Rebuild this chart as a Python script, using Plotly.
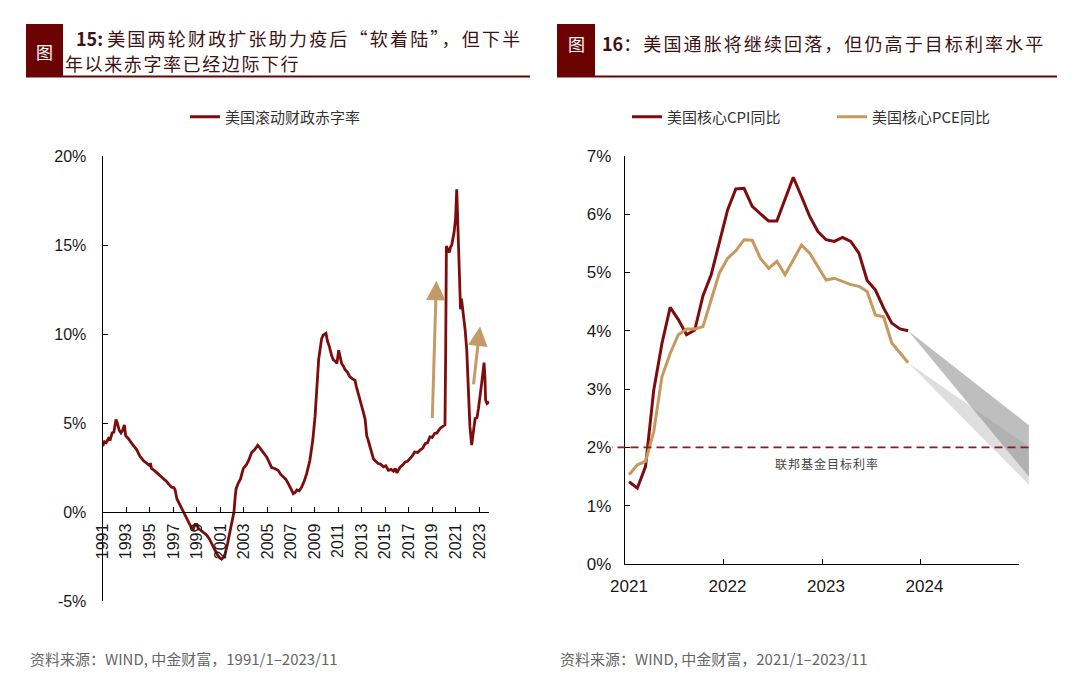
import plotly.graph_objects as go

W, H = 1080, 684
OFF = 8  # page body margin of the html page
CJK = "Noto Sans CJK SC"
NUM = "Liberation Sans, Arial"
RED = "#7E0C0C"
TAN = "#C8985E"
ARROW = "#C49A68"

# ---------------- left chart data: 美国滚动财政赤字率 (% , decimal year) ----------------
deficit_t = [1991.00, 1991.15, 1991.30, 1991.50, 1991.65, 1991.80, 1991.95, 1992.05, 1992.13, 1992.25,
             1992.40, 1992.55, 1992.70, 1992.84, 1992.95, 1993.15, 1993.35, 1993.60, 1993.90, 1994.15,
             1994.45, 1994.75, 1995.00, 1995.05, 1995.15, 1995.45, 1995.90, 1996.20, 1996.45, 1996.70,
             1996.85, 1997.05, 1997.15, 1997.30, 1997.60, 1997.85, 1998.10, 1998.30, 1998.55, 1998.70,
             1998.85, 1999.00, 1999.15, 1999.30, 1999.55, 1999.84, 2000.05, 2000.26, 2000.50, 2000.70,
             2000.90, 2001.10, 2001.25, 2001.40, 2001.60, 2001.80, 2002.00, 2002.15, 2002.25, 2002.33,
             2002.50, 2002.70, 2002.95, 2003.20, 2003.40, 2003.65, 2003.90, 2004.17, 2004.30, 2004.50,
             2004.70, 2004.93, 2005.15, 2005.36, 2005.60, 2005.90, 2006.15, 2006.35, 2006.55, 2006.77,
             2007.00, 2007.20, 2007.35, 2007.50, 2007.70, 2007.90, 2008.10, 2008.33, 2008.60, 2008.75,
             2008.85, 2009.04, 2009.15, 2009.24, 2009.35, 2009.46, 2009.60, 2009.75, 2009.97, 2010.10,
             2010.26, 2010.45, 2010.60, 2010.80, 2010.90, 2011.05, 2011.15, 2011.30, 2011.45, 2011.60,
             2011.80, 2012.00, 2012.20, 2012.44, 2012.55, 2012.70, 2012.85, 2013.00, 2013.15, 2013.30,
             2013.43, 2013.55, 2013.70, 2013.85, 2014.00, 2014.20, 2014.40, 2014.60, 2014.85, 2015.05,
             2015.27, 2015.50, 2015.70, 2015.85, 2016.00, 2016.15, 2016.30, 2016.50, 2016.70, 2016.90,
             2017.10, 2017.30, 2017.50, 2017.75, 2017.96, 2018.20, 2018.40, 2018.60, 2018.80, 2019.00,
             2019.20, 2019.40, 2019.66, 2019.90, 2020.08, 2020.14, 2020.20, 2020.30, 2020.45, 2020.55,
             2020.65, 2020.85, 2020.98, 2021.08, 2021.15, 2021.22, 2021.30, 2021.40, 2021.48, 2021.64,
             2021.80, 2021.93, 2022.05, 2022.20, 2022.35, 2022.45, 2022.64, 2022.80, 2022.92, 2023.20,
             2023.40, 2023.48, 2023.53, 2023.65, 2023.84]
deficit_v = [3.70, 3.95, 3.90, 4.15, 4.10, 4.45, 4.50, 5.00, 5.20, 5.00,
             4.60, 4.45, 4.60, 4.90, 4.30, 4.15, 4.00, 3.75, 3.50, 3.15,
             2.90, 2.75, 2.60, 2.75, 2.45, 2.30, 2.05, 1.85, 1.70, 1.50,
             1.40, 1.37, 1.25, 0.75, 0.35, 0.00, -0.35, -0.65, -0.90, -0.95,
             -0.70, -0.70, -0.95, -1.00, -1.15, -1.30, -1.50, -1.80, -2.10, -2.35,
             -2.55, -2.65, -2.55, -2.35, -1.80, -1.20, -0.50, 0.00, 0.80, 1.30,
             1.60, 1.85, 2.45, 2.65, 2.90, 3.35, 3.50, 3.75, 3.65, 3.45,
             3.30, 3.10, 2.80, 2.50, 2.45, 2.35, 2.10, 1.97, 1.85, 1.60,
             1.30, 1.03, 1.10, 1.25, 1.20, 1.40, 1.70, 2.16, 2.90, 3.60,
             4.05, 5.35, 6.50, 7.60, 8.60, 9.10, 9.75, 9.95, 10.05, 9.60,
             9.30, 8.80, 8.55, 8.45, 8.35, 9.10, 8.70, 8.35, 8.20, 8.00,
             7.85, 7.60, 7.50, 7.40, 7.05, 6.70, 6.40, 6.10, 5.60, 5.20,
             4.30, 4.05, 3.66, 3.30, 3.00, 2.85, 2.73, 2.70, 2.54, 2.60,
             2.35, 2.40, 2.30, 2.45, 2.20, 2.40, 2.55, 2.65, 2.82, 2.85,
             3.00, 3.15, 3.38, 3.35, 3.48, 3.60, 3.85, 3.90, 4.23, 4.20,
             4.42, 4.45, 4.70, 4.80, 4.90, 9.00, 14.95, 14.80, 14.60, 14.90,
             15.00, 15.70, 16.50, 18.15, 16.50, 15.40, 12.50, 11.40, 12.00, 11.20,
             10.20, 9.10, 7.00, 4.80, 3.76, 4.40, 5.26, 5.30, 5.80, 7.25,
             8.40, 7.50, 6.30, 6.10, 6.20]
left_ticks = list(range(1991, 2024, 2))
left_yticks = [-5, 0, 5, 10, 15, 20]
# arrows (tail -> head)
arrow_tail_t = [2019.00, 2022.49]
arrow_tail_v = [5.20, 7.09]
arrow_head_t = [2019.35, 2023.06]
arrow_head_v = [13.00, 10.43]

# ---------------- right chart data: 核心CPI / 核心PCE 同比 (%), 2021-01 .. 2023-11 ----------------
months = [f"{y}-{m:02d}" for y in (2021, 2022, 2023) for m in range(1, 13)][:35]
core_cpi = [1.41, 1.30, 1.67, 2.98, 3.78, 4.40, 4.19, 3.93, 4.01, 4.60, 4.96, 5.50,
            6.07, 6.43, 6.44, 6.13, 6.01, 5.88, 5.88, 6.24, 6.63, 6.30, 5.96, 5.70,
            5.56, 5.53, 5.60, 5.53, 5.33, 4.86, 4.70, 4.39, 4.13, 4.03, 4.00]
core_pce = [1.53, 1.70, 1.76, 2.27, 3.21, 3.61, 3.93, 4.03, 4.03, 4.07, 4.53, 4.99,
            5.24, 5.37, 5.56, 5.55, 5.24, 5.07, 5.19, 4.96, 5.21, 5.47, 5.33, 5.10,
            4.87, 4.90, 4.84, 4.79, 4.76, 4.67, 4.27, 4.24, 3.79, 3.61, 3.45]
# projection fans: start value at 2023-11, range at the end (about 2025-01)
fan_end_t = 2025.10
cpi_fan = [4.00, 2.38, 1.50]
pce_fan = [3.45, 2.01, 1.36]
fed_target = 2.0
right_ticks = [2021, 2022, 2023, 2024, 2025]
right_ticktext = ["2021", "2022", "2023", "2024", ""]
right_yticks = list(range(0, 8))


def mdec(s):
    y, m = s.split("-")
    return int(y) + (int(m) - 0.5) / 12


mx = [mdec(s) for s in months]


def px_x(p):
    return (p - OFF) / W


def px_y(p):
    return 1 - (p - OFF) / H


def spaced(txt, ls):
    return f'<span style="letter-spacing:{ls}px">{txt}</span>'


fig = go.Figure()

# left line
fig.add_trace(go.Scatter(x=deficit_t, y=deficit_v, mode="lines", name="美国滚动财政赤字率",
                         line=dict(color=RED, width=2.8), xaxis="x", yaxis="y", legend="legend",
                         hoverinfo="skip"))

# right: fans (wide invisible axis x3 so they can overhang a little)
for fan, col in ((pce_fan, "rgba(200,200,200,0.6)"), (cpi_fan, "rgba(150,150,150,0.62)")):
    fig.add_trace(go.Scatter(x=[mx[-1], fan_end_t, fan_end_t, mx[-1]],
                             y=[fan[0], fan[1], fan[2], fan[0]], mode="lines", fill="toself",
                             fillcolor=col, line=dict(width=0), xaxis="x3", yaxis="y2",
                             showlegend=False, hoverinfo="skip"))
# fed target dashed line
fig.add_trace(go.Scatter(x=[2020.0, 2026.0], y=[fed_target, fed_target], mode="lines",
                         line=dict(color="#8E1B1B", width=1.6, dash="8px,5px"),
                         xaxis="x3", yaxis="y2", showlegend=False, hoverinfo="skip"))

fig.add_trace(go.Scatter(x=mx, y=core_cpi, mode="lines", name="美国核心CPI同比",
                         line=dict(color=RED, width=3), xaxis="x2", yaxis="y2", legend="legend2",
                         hoverinfo="skip"))
fig.add_trace(go.Scatter(x=mx, y=core_pce, mode="lines", name="美国核心PCE同比",
                         line=dict(color=TAN, width=3), xaxis="x2", yaxis="y2", legend="legend2",
                         hoverinfo="skip"))

# ---------- axes ----------
L_X0, L_X1 = 102.7, 489.3
L_PPY = 11.77
L_Y20, L_YM5 = 156.3, 601.0
ldom_y = [px_y(L_YM5), px_y(L_Y20)]
zero_pos = ldom_y[0] + (0 - (-5)) / 25 * (ldom_y[1] - ldom_y[0])

R_X0, R_X1 = 625.0, 1019.0
R_PPY = (R_X1 - R_X0) / 4
R_Y0, R_Y7 = 564.0, 155.7
W_X0, W_X1 = 612.0, 1031.0

axis_common = dict(showgrid=False, zeroline=False, showline=True, linecolor="#000", linewidth=1.3,
                   ticks="inside", ticklen=5, tickcolor="#000", tickwidth=1.2, automargin=False,
                   tickfont=dict(family=NUM, size=16, color="#1a1a1a"))

fig.update_layout(
    width=W, height=H, margin=dict(l=0, r=0, t=0, b=0, autoexpand=False),
    paper_bgcolor="white", plot_bgcolor="rgba(0,0,0,0)",
    xaxis=dict(axis_common, domain=[px_x(L_X0), px_x(L_X1)],
               range=[1991, 1991 + (L_X1 - L_X0) / L_PPY], anchor="free", position=zero_pos,
               tickmode="array", tickvals=left_ticks, ticktext=[str(t) for t in left_ticks],
               tickangle=-90, ticklabelstandoff=4),
    yaxis=dict(axis_common, domain=ldom_y, range=[-5, 20], anchor="x",
               tickmode="array", tickvals=left_yticks, ticktext=[f"{v}%" for v in left_yticks],
               ticklabelstandoff=12),
    xaxis2=dict(axis_common, domain=[px_x(R_X0), px_x(R_X1)], range=[2021, 2025], anchor="y2",
                tickmode="array", tickvals=right_ticks, ticktext=right_ticktext,
                tickfont=dict(family=NUM, size=17, color="#1a1a1a"), ticklabelshift=4,
                ticklabelstandoff=6),
    yaxis2=dict(axis_common, domain=[px_y(R_Y0), px_y(R_Y7)], range=[0, 7], anchor="x2",
                tickmode="array", tickvals=right_yticks, ticktext=[f"{v}%" for v in right_yticks],
                tickfont=dict(family=NUM, size=17, color="#1a1a1a"), ticklabelstandoff=9),
    xaxis3=dict(domain=[px_x(W_X0), px_x(W_X1)],
                range=[2021 + (W_X0 - R_X0) / R_PPY, 2025 + (W_X1 - R_X1) / R_PPY],
                anchor="y2", visible=False),
    legend=dict(x=px_x(185), y=px_y(117), xanchor="left", yanchor="middle", orientation="h",
                font=dict(family=CJK, size=15, color="#333"), bgcolor="rgba(0,0,0,0)"),
    legend2=dict(x=px_x(627), y=px_y(117), xanchor="left", yanchor="middle", orientation="h",
                 entrywidth=160, entrywidthmode="pixels",
                 font=dict(family=CJK, size=15, color="#333"), bgcolor="rgba(0,0,0,0)"),
    showlegend=True,
)

# ---------- title blocks ----------
shapes = []
annots = []
BOX = "#6B0303"
for (bx0, bx1, ux1, gy) in ((26, 63, 530, 51), (557, 595, 1057, 43)):
    shapes.append(dict(type="rect", xref="paper", yref="paper", x0=px_x(bx0), x1=px_x(bx1),
                       y0=px_y(77), y1=px_y(24), fillcolor=BOX, line=dict(width=0), layer="above"))
    shapes.append(dict(type="line", xref="paper", yref="paper", x0=px_x(bx0), x1=px_x(ux1),
                       y0=px_y(76.5), y1=px_y(76.5), line=dict(color=BOX, width=2)))
    annots.append(dict(text="图", x=px_x((bx0 + bx1) / 2), y=px_y(gy), xref="paper", yref="paper",
                       showarrow=False, font=dict(family=CJK, size=17, color="white"),
                       xanchor="center", yanchor="middle"))

TITLE_C = "#3d1212"
annots.append(dict(text="<b>15:</b> " + spaced("美国两轮财政扩张助力疫后“软着陆”，但下半", 2.2),
                   x=px_x(74), y=px_y(38),
                   xref="paper", yref="paper", showarrow=False, xanchor="left", yanchor="middle",
                   font=dict(family=CJK, size=18, color=TITLE_C)))
annots.append(dict(text=spaced("年以来赤字率已经边际下行", 1.6), x=px_x(63), y=px_y(63),
                   xref="paper", yref="paper", showarrow=False, xanchor="left", yanchor="middle",
                   font=dict(family=CJK, size=18, color=TITLE_C)))
annots.append(dict(text="<b>16</b>" + spaced("：美国通胀将继续回落，但仍高于目标利率水平", 2.1),
                   x=px_x(600), y=px_y(43),
                   xref="paper", yref="paper", showarrow=False, xanchor="left", yanchor="middle",
                   font=dict(family=CJK, size=18, color=TITLE_C)))

# footers
for fx, txt in ((28, "资料来源：WIND, 中金财富，1991/1–2023/11"),
                (558, "资料来源：WIND, 中金财富，2021/1–2023/11")):
    annots.append(dict(text=txt, x=px_x(fx), y=px_y(658), xref="paper", yref="paper",
                       showarrow=False, xanchor="left", yanchor="middle",
                       font=dict(family=CJK, size=15, color="#666")))

# fed label
annots.append(dict(text=spaced("联邦基金目标利率", 1), x=2023.05, y=fed_target, xref="x2", yref="y2",
                   yshift=-16, showarrow=False, xanchor="center", yanchor="middle",
                   font=dict(family=CJK, size=12, color="#444")))

# arrows on left chart
for i in range(2):
    annots.append(dict(x=arrow_head_t[i], y=arrow_head_v[i], ax=arrow_tail_t[i], ay=arrow_tail_v[i],
                       xref="x", yref="y", axref="x", ayref="y", text="", showarrow=True,
                       arrowhead=2, arrowsize=1.3, arrowwidth=3, arrowcolor=ARROW, standoff=0))

fig.update_layout(shapes=shapes, annotations=annots)
fig.write_html("out.html")
